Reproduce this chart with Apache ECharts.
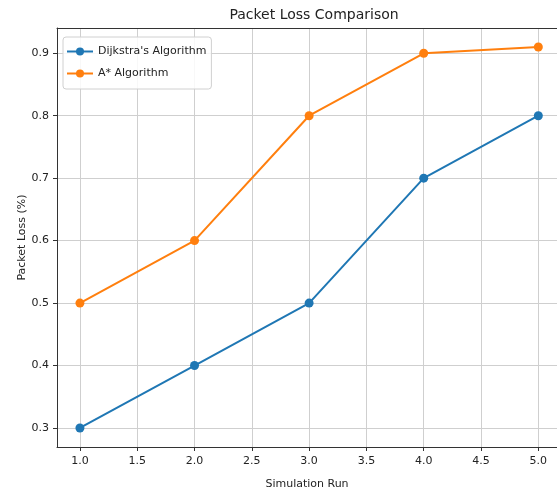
<!DOCTYPE html>
<html>
<head>
<meta charset="utf-8">
<script src="https://cdn.jsdelivr.net/npm/echarts@6/dist/echarts.min.js"></script>
<style>
html,body{margin:0;padding:0;background:#fff;}
#chart{width:557px;height:495px;}
</style>
</head>
<body>
<div id="chart"></div>
<script>
const runs = [1, 2, 3, 4, 5];
const dijkstra = [0.3, 0.4, 0.5, 0.7, 0.8];
const aStar = [0.5, 0.6, 0.8, 0.9, 0.91];
const xTicks = [1.0, 1.5, 2.0, 2.5, 3.0, 3.5, 4.0, 4.5, 5.0];
const yTicks = [0.3, 0.4, 0.5, 0.6, 0.7, 0.8, 0.9];

const FONT = 'DejaVu Sans';
const X_MIN = 0.8, X_MAX = 5.163;
const GRID = '#cfcfcf';
const chart = echarts.init(document.getElementById('chart'));
chart.setOption({
  animation: false,
  backgroundColor: '#fff',
  title: {
    text: 'Packet Loss Comparison',
    left: 309, top: 3, textAlign: 'center',
    textStyle: {fontFamily: FONT, fontSize: 14, fontWeight: 'normal', color: '#222'}
  },
  legend: {
    orient: 'vertical', left: 63, top: 37, z: 10,
    padding: [9, 5, 10, 3],
    itemWidth: 26, itemHeight: 10, itemGap: 11,
    backgroundColor: 'rgba(255,255,255,0.85)',
    borderColor: '#d0d0d0', borderWidth: 1, borderRadius: 3,
    textStyle: {fontFamily: FONT, fontSize: 11, color: '#222'},
    data: ["Dijkstra's Algorithm", 'A* Algorithm']
  },
  grid: {
    left: 57, top: 28, right: 0, height: 419,
    show: false
  },
  xAxis: [{
    type: 'value', min: X_MIN, max: X_MAX,
    name: 'Simulation Run', nameLocation: 'middle', nameGap: 32, nameMoveOverlap: false,
    nameTextStyle: {fontFamily: FONT, fontSize: 11, color: '#222'},
    axisLine: {show: true, onZero: false, lineStyle: {color: '#333', width: 1}},
    axisTick: {show: true, length: 4, lineStyle: {color: '#333'}, customValues: xTicks},
    axisLabel: {fontFamily: FONT, fontSize: 11, color: '#222', margin: 9,
      customValues: xTicks, formatter: v => v.toFixed(1)},
    splitLine: {show: false}
  }, {
    type: 'value', position: 'top', min: X_MIN, max: X_MAX,
    axisLine: {show: true, onZero: false, lineStyle: {color: '#333', width: 1}},
    axisTick: {show: false}, axisLabel: {show: false}, splitLine: {show: false}
  }],
  yAxis: {
    type: 'value', min: 0.2695, max: 0.9405,
    name: 'Packet Loss (%)', nameLocation: 'middle', nameGap: 29, nameMoveOverlap: false,
    nameTextStyle: {fontFamily: FONT, fontSize: 11, color: '#222'},
    axisLine: {show: true, onZero: false, lineStyle: {color: '#333', width: 1}},
    axisTick: {show: true, length: 4, lineStyle: {color: '#333'}, customValues: yTicks},
    axisLabel: {fontFamily: FONT, fontSize: 11, color: '#222', margin: 8,
      customValues: yTicks, formatter: v => v.toFixed(1)},
    splitLine: {show: true, lineStyle: {color: GRID, width: 1}}
  },
  series: [
    {
      name: 'xgrid', type: 'line', xAxisIndex: 0, data: [], z: 0, silent: true,
      markLine: {
        z: 0, silent: true, symbol: 'none', animation: false,
        label: {show: false},
        lineStyle: {color: GRID, width: 1, type: 'solid'},
        emphasis: {disabled: true},
        data: xTicks.map(v => ({xAxis: v}))
      }
    },
    {
      name: "Dijkstra's Algorithm", type: 'line', xAxisIndex: 0, z: 3,
      data: runs.map((r, i) => [r, dijkstra[i]]),
      color: '#1f77b4', symbol: 'circle', symbolSize: 9,
      lineStyle: {width: 2}, itemStyle: {color: '#1f77b4'}
    },
    {
      name: 'A* Algorithm', type: 'line', xAxisIndex: 0, z: 3,
      data: runs.map((r, i) => [r, aStar[i]]),
      color: '#ff7f0e', symbol: 'circle', symbolSize: 9,
      lineStyle: {width: 2}, itemStyle: {color: '#ff7f0e'}
    }
  ]
});
</script>
</body>
</html>
